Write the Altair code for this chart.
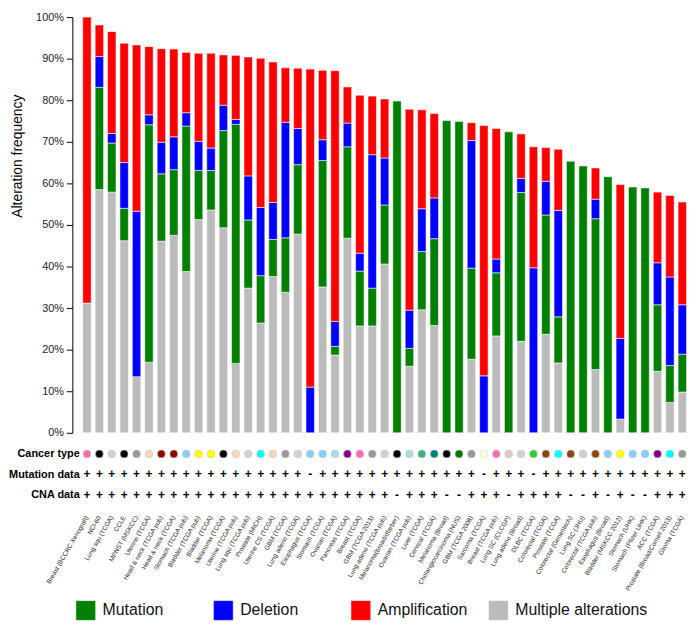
import altair as alt
import pandas as pd

studies = [
    "Breast (BCCRC Xenograft)", "NCI-60", "Lung squ (TCGA)", "CCLE", "MPNST (MSKCC)",
    "Uterine (TCGA)", "Head & neck (TCGA pub)", "Head & neck (TCGA)", "Stomach (TCGA pub)",
    "Bladder (TCGA pub)", "Bladder (TCGA)", "Melanoma (TCGA)", "Uterine (TCGA pub)",
    "Lung squ (TCGA pub)", "Prostate (MICH)", "Uterine CS (TCGA)", "GBM (TCGA)",
    "Lung adeno (TCGA)", "Esophagus (TCGA)", "Stomach (TCGA)", "Ovarian (TCGA)",
    "Pancreas (TCGA)", "Breast (TCGA)", "GBM (TCGA 2013)", "Lung adeno (TCGA pub)",
    "Melanoma(broad/dfarber)", "Ovarian (TCGA pub)", "Liver (TCGA)", "Cervical (TCGA)",
    "Melanoma (Broad)", "Cholangiocarcinoma (NUS)", "GBM (TCGA 2008)", "Sarcoma (TCGA)",
    "Breast (TCGA pub)", "Lung SC (CLCGP)", "Lung adeno (Broad)", "DLBC (TCGA)",
    "Colorectal (TCGA)", "Prostate (TCGA)", "Colorectal (Genentech)", "Lung SC (JHU)",
    "Colorectal (TCGA pub)", "Esophagus (Broad)", "Bladder (MSKCC 2012)", "Stomach (UHK)",
    "Stomach (Pfizer UHK)", "ACC (TCGA)", "Prostate (Broad/Cornell 2013)", "Glioma (TCGA)",
]

multiple = [31.2, 58.5, 57.9, 46.2, 13.5, 17.0, 46.1, 47.5, 38.8, 51.3, 53.6, 49.3, 16.7,
            34.8, 26.4, 37.6, 33.8, 47.8, 0, 35.1, 18.7, 46.8, 25.7, 25.7, 40.6, 0, 16.0,
            29.6, 25.8, 0, 0, 17.7, 0, 23.3, 0, 22.0, 0, 23.7, 16.8, 0, 0, 15.2, 0, 3.3,
            0, 0, 14.8, 7.3, 9.8]
mutation = [0, 24.6, 11.8, 7.8, 0, 57.1, 16.2, 15.8, 35.0, 11.8, 9.5, 23.4, 57.5,
            16.4, 11.4, 8.9, 13.1, 16.7, 0, 30.4, 2.1, 22.0, 13.2, 9.1, 14.2, 79.8, 4.3,
            14.0, 20.9, 75.1, 74.9, 21.9, 0, 15.2, 72.4, 35.8, 0, 28.7, 11.1, 65.3, 64.2,
            36.3, 61.6, 0, 59.1, 58.9, 16.0, 8.9, 9.1]
deletion = [0, 7.4, 2.3, 11.0, 39.8, 2.4, 7.6, 7.9, 3.2, 7.0, 5.4, 6.1, 1.2,
            10.6, 16.4, 8.9, 27.8, 8.7, 11.0, 5.0, 6.0, 5.7, 4.3, 32.1, 11.3, 0, 9.2,
            10.3, 9.8, 0, 0, 30.7, 13.7, 3.3, 0, 3.4, 39.7, 8.1, 25.6, 0, 0,
            4.7, 0, 19.4, 0, 0, 10.1, 21.3, 11.9]
amplification = [68.8, 7.6, 24.5, 28.7, 40.0, 16.4, 22.5, 21.1, 14.5, 21.2, 22.8, 12.1, 15.4,
                 28.6, 35.9, 33.8, 13.1, 14.5, 76.5, 16.7, 60.3, 8.7, 38.0, 14.1, 14.2, 0, 48.3,
                 23.8, 20.3, 0, 0, 4.3, 60.2, 31.4, 0, 10.7, 29.1, 8.1, 14.7, 0, 0,
                 7.5, 0, 37.0, 0, 0, 17.0, 19.6, 24.7]

tissue = ["Breast", "Cell lines", "Lung", "Cell lines", "Nervous system", "Uterus",
          "Head and neck", "Head and neck", "Gastric", "Bladder", "Bladder", "Skin", "Uterus",
          "Lung", "Prostate", "Uterus", "Nervous system", "Lung", "Gastric", "Gastric", "Ovary",
          "Pancreas", "Breast", "Nervous system", "Lung", "Skin", "Ovary", "Liver", "Cervix",
          "Skin", "Bile duct", "Nervous system", "Soft tissue", "Breast", "Lung", "Lung",
          "Lymphoid", "Bowel", "Prostate", "Bowel", "Lung", "Bowel", "Gastric", "Bladder",
          "Gastric", "Gastric", "Adrenal", "Prostate", "Nervous system"]

mutation_data = ["+"] * 18 + ["-"] + ["+"] * 13 + ["-"] + ["+"] * 3 + ["-"] + ["+"] * 12
cna_data = (["+"] * 25 + ["-"] + ["+"] * 3 + ["-", "-"] + ["+"] * 3 + ["-"] + ["+"] * 4
            + ["-", "-", "+", "-", "+", "-", "-", "+", "+", "+"])

tissue_names = ["Breast", "Cell lines", "Lung", "Nervous system", "Uterus", "Head and neck",
                "Gastric", "Bladder", "Skin", "Prostate", "Ovary", "Pancreas", "Liver",
                "Cervix", "Bile duct", "Soft tissue", "Lymphoid", "Bowel", "Adrenal"]
tissue_colors = ["#ff69b4", "#000000", "#dbcccc", "#999999", "#fad5b5", "#900000",
                 "#87cefa", "#ffff00", "#000000", "#00ffff", "#add8e6", "#800080", "#3cb371",
                 "#008080", "#007800", "#ffffe0", "#32cd32", "#8b4513", "#800080"]

alt_types = ["Mutation", "Deletion", "Amplification", "Multiple alterations"]
alt_colors = ["#008000", "#0000ff", "#ff0000", "#bbbbbb"]
stack_order = {"Multiple alterations": 0, "Mutation": 1, "Deletion": 2, "Amplification": 3}
row_names = ["Cancer type", "Mutation data", "CNA data"]

FONT = "Liberation Sans"

# ---- bar data (long format)
recs = []
for i, s in enumerate(studies):
    for t, vals in (("Multiple alterations", multiple), ("Mutation", mutation),
                    ("Deletion", deletion), ("Amplification", amplification)):
        if vals[i] > 0:
            recs.append({"study": s, "type": t, "value": vals[i], "order": stack_order[t]})
bar_df = pd.DataFrame(recs)

row_recs = []
for i, s in enumerate(studies):
    row_recs.append({"study": s, "row": "Cancer type", "tissue": tissue[i], "sym": ""})
    row_recs.append({"study": s, "row": "Mutation data", "tissue": "", "sym": mutation_data[i]})
    row_recs.append({"study": s, "row": "CNA data", "tissue": "", "sym": cna_data[i]})
row_df = pd.DataFrame(row_recs)

W = 615
x_scale = alt.Scale(type="band", paddingInner=0.32, paddingOuter=0.2)
type_color = alt.Color("type:N", scale=alt.Scale(domain=alt_types, range=alt_colors), legend=None)

bars = alt.Chart(bar_df).mark_bar(stroke="white", strokeWidth=1, strokeOpacity=0.55).encode(
    x=alt.X("study:N", sort=studies, scale=x_scale, axis=None),
    y=alt.Y("value:Q", stack="zero",
            scale=alt.Scale(domain=[0, 100], nice=False),
            axis=alt.Axis(values=list(range(0, 101, 10)), labelExpr="datum.value + '%'",
                          grid=False, tickSize=6, tickColor="#000", domainColor="#000",
                          labelFontSize=11, labelColor="#222", labelPadding=3, offset=8,
                          title="Alteration frequency", titleFontSize=14,
                          titleFontWeight="normal", titleColor="#000",
                          titleX=-55, titleY=140, titleAngle=270,
                          titleBaseline="middle", titleAlign="center")),
    color=type_color,
    order=alt.Order("order:Q"),
).properties(width=W, height=420)

row_x = alt.X("study:N", sort=studies, scale=x_scale,
              axis=alt.Axis(title=None, labelAngle=-60, labelAlign="right",
                            labelBaseline="middle", labelFontSize=6.5, labelColor="#222",
                            labelPadding=11, ticks=False, domain=False,
                            labelOverlap=False, labelLimit=300))
row_y = alt.Y("row:N", sort=row_names,
              axis=alt.Axis(title=None, labelFontWeight="bold", labelFontSize=11,
                            labelColor="#000", ticks=False, domain=False, labelPadding=1))

dots = alt.Chart(row_df).transform_filter(alt.datum.row == "Cancer type").mark_circle(
    size=62, opacity=1, stroke="#c8c8c8", strokeWidth=0.5).encode(
    x=row_x, y=row_y,
    fill=alt.Fill("tissue:N", scale=alt.Scale(domain=tissue_names, range=tissue_colors),
                  legend=None),
)
signs = alt.Chart(row_df).transform_filter(alt.datum.row != "Cancer type").mark_text(
    fontSize=12, fontWeight="bold", color="#000", baseline="middle").encode(
    x=row_x, y=row_y, text="sym:N",
)
rows = alt.layer(dots, signs).properties(width=W, height=62)

leg_df = pd.DataFrame({"type": alt_types})
leg_x = alt.X("type:N", sort=alt_types, scale=alt.Scale(type="point", padding=0.04), axis=None)
leg_sq = alt.Chart(leg_df).mark_square(size=400, opacity=1, stroke="white",
                                       strokeWidth=1, strokeOpacity=0.55).encode(
    x=leg_x, color=type_color)
leg_tx = alt.Chart(leg_df).mark_text(align="left", dx=17, fontSize=16, color="#111",
                                     baseline="middle").encode(x=leg_x, text="type:N")
legend = alt.layer(leg_sq, leg_tx).properties(width=428, height=21)

chart = alt.vconcat(bars, rows, legend, spacing=6).resolve_scale(
    color="independent", fill="independent"
).properties(
    padding={"left": 0, "top": 0, "right": 0, "bottom": 0}
).configure(font=FONT).configure_view(stroke=None).configure_axis(
    labelFont=FONT, titleFont=FONT).configure_text(font=FONT)

chart.save("out.html", embed_options={"renderer": "svg", "actions": False})
